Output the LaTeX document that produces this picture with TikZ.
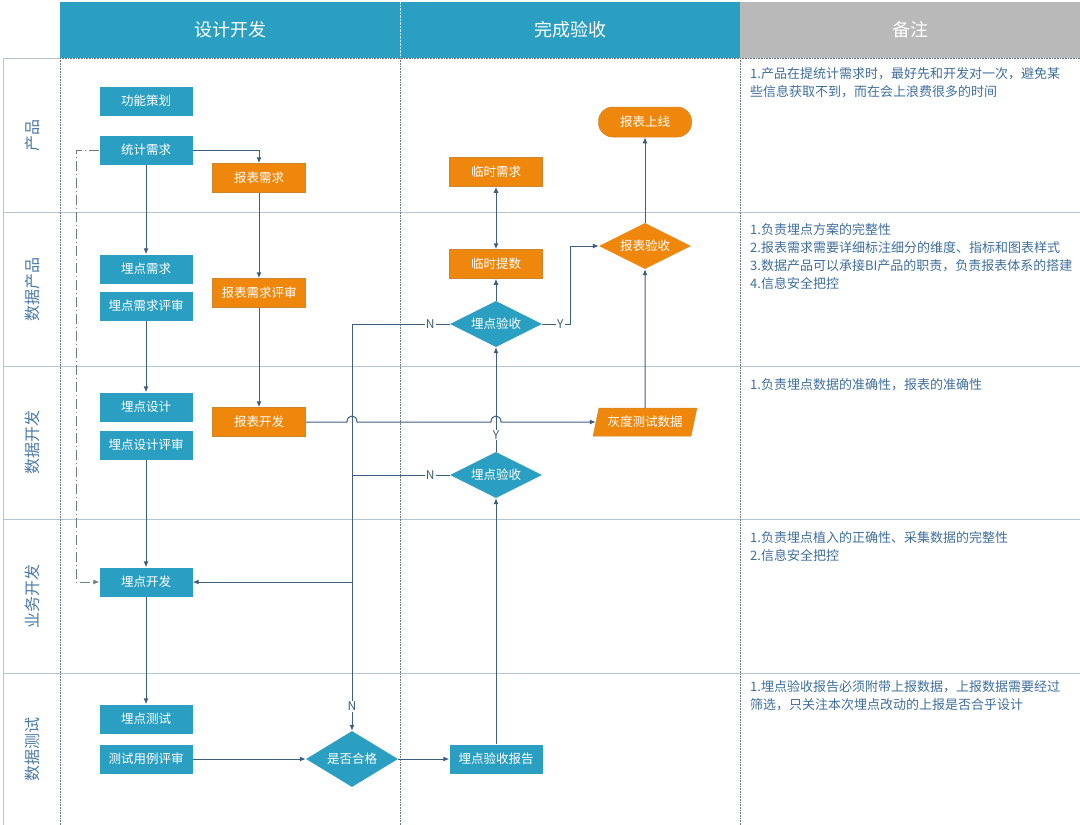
\documentclass[tikz,border=0pt]{standalone}
\usepackage{fontspec}
\setmainfont{Noto Sans CJK SC}
\usetikzlibrary{arrows.meta,shapes.geometric,calc}

\definecolor{boxblue}{HTML}{2A9FC1}
\definecolor{boxorange}{HTML}{EF870C}
\definecolor{headgray}{HTML}{B9B9B9}
\definecolor{linkcol}{HTML}{3E5E7E}
\definecolor{gridcol}{HTML}{B3C5D5}
\definecolor{notecol}{HTML}{3F6E9C}
\definecolor{lanecol}{HTML}{4B7AA6}

\tikzset{
  bluebox/.style={rectangle, fill=boxblue, text=white, minimum width=93pt, minimum height=29pt, inner sep=1pt, font=\fontsize{12.5}{14}\selectfont},
  orangebox/.style={bluebox, fill=boxorange, draw=boxorange!70!gray, line width=0.5pt},
  orangepara/.style={orangebox, trapezium, trapezium left angle=70, trapezium right angle=110, trapezium stretches=true, minimum width=104pt, minimum height=28pt},
  bluediam/.style={diamond, aspect=2, fill=boxblue, text=white, minimum width=92pt, minimum height=46pt, inner sep=1pt, font=\fontsize{12.5}{14}\selectfont},
  orangediam/.style={bluediam, fill=boxorange},
  link/.style={draw=linkcol, line width=1pt, -{Latex[length=6pt,width=5pt]}},
  plainlink/.style={draw=linkcol, line width=1pt},
  dashlink/.style={draw=gray!80!linkcol, line width=0.9pt, dash pattern=on 10pt off 3pt on 1pt off 3pt, -{Latex[length=6pt,width=5pt]}},
  yn/.style={fill=white, inner sep=1pt, text=linkcol, font=\fontsize{12}{13}\selectfont},
  note/.style={anchor=north west, align=left, text=notecol, inner sep=0pt, font=\fontsize{13}{18}\selectfont},
  lane/.style={rotate=90, text=lanecol, font=\fontsize{16}{18}\selectfont},
  head/.style={text=white, font=\fontsize{18}{20}\selectfont},
  grid/.style={draw=gridcol, line width=0.9pt},
  colsep/.style={draw=gridcol!60!black, densely dotted, line width=0.6pt}
}

\begin{document}
\begin{tikzpicture}[x=1pt,y=-1pt]
\useasboundingbox (0,0) rectangle (1080,825);

% header and lanes
\fill[boxblue] (60,2) rectangle (740,58);
\fill[headgray] (740,2) rectangle (1080,58);
\draw[white!75!boxblue, densely dotted] (400,2) -- (400,58);
\node[head] (hsjkf) at (230,30) {设计开发};
\node[head] (hwcys) at (570,30) {完成验收};
\node[head] (hbz) at (910,30) {备注};

\draw[grid] (3,58) -- (60,58);
\draw[grid] (3,58) -- (3,825);
\draw[grid] (3,212) -- (1080,212);
\draw[grid] (3,366) -- (1080,366);
\draw[grid] (3,519) -- (1080,519);
\draw[grid] (3,673) -- (1080,673);
\draw[colsep] (60,58) -- (1080,58);
\draw[colsep] (60,58) -- (60,825);
\draw[colsep] (400,58) -- (400,825);
\draw[colsep] (740,58) -- (740,825);

\node[lane] (lcp) at (32,135) {产品};
\node[lane] (lsjcp) at (32,289) {数据产品};
\node[lane] (lsjkf) at (32,442) {数据开发};
\node[lane] (lywkf) at (32,596) {业务开发};
\node[lane] (lsjcs) at (32,749) {数据测试};

% steps
\node[bluebox] (gncx) at (146,101) {功能策划};
\node[bluebox] (tjxq) at (146,150) {统计需求};
\node[orangebox] (bbxq) at (259,178) {报表需求};
\node[bluebox] (mdxq) at (146,269) {埋点需求};
\node[bluebox] (mdxqps) at (146,306) {埋点需求评审};
\node[orangebox] (bbxqps) at (259,293) {报表需求评审};
\node[bluebox] (mdsj) at (146,407) {埋点设计};
\node[bluebox] (mdsjps) at (146,445) {埋点设计评审};
\node[orangebox] (bbkf) at (259,422) {报表开发};
\node[bluebox] (mdkf) at (146,582) {埋点开发};
\node[bluebox] (mdcs) at (146,719) {埋点测试};
\node[bluebox] (csylps) at (146,759) {测试用例评审};
\node[bluediam, minimum width=92pt, minimum height=56pt] (sfhg) at (352,759) {是否合格};
\node[bluebox] (ysbg) at (496,759) {埋点验收报告};
\node[bluediam] (ysxia) at (496,475) {埋点验收};
\node[orangepara] (hdcs) at (645,422) {灰度测试数据};
\node[bluediam] (ysshang) at (496,324) {埋点验收};
\node[orangebox] (lsts) at (496,264) {临时提数};
\node[orangebox] (lsxq) at (496,172) {临时需求};
\node[orangediam] (bbys) at (645,246) {报表验收};
\node[orangebox, rounded corners=14pt, minimum height=30pt] (bbsx) at (645,122) {报表上线};

% notes
\node[note] (nt1) at (750,67) {1.产品在提统计需求时，最好先和开发对一次，避免某\\些信息获取不到，而在会上浪费很多的时间};
\node[note] (nt2) at (750,223) {1.负责埋点方案的完整性\\2.报表需求需要详细标注细分的维度、指标和图表样式\\3.数据产品可以承接BI产品的职责，负责报表体系的搭建\\4.信息安全把控};
\node[note] (nt3) at (750,378) {1.负责埋点数据的准确性，报表的准确性};
\node[note] (nt4) at (750,531) {1.负责埋点植入的正确性、采集数据的完整性\\2.信息安全把控};
\node[note] (nt5) at (750,680) {1.埋点验收报告必须附带上报数据，上报数据需要经过\\筛选，只关注本次埋点改动的上报是否合乎设计};

% flow
\draw[link] (tjxq.east) -| (bbxq.north);
\draw[link] (tjxq.south) -- (mdxq.north);
\draw[link] (bbxq.south) -- (bbxqps.north);
\draw[link] (mdxqps.south) -- (mdsj.north);
\draw[link] (bbxqps.south) -- (bbkf.north);
\draw[link] (mdsjps.south) -- (mdkf.north);
\draw[link] (mdkf.south) -- (mdcs.north);
\draw[link] (csylps.east) -- (sfhg.west);
\draw[link] (sfhg.east) -- (ysbg.west);
\draw[link] (ysbg.north) -- (ysxia.south);
\draw[link] (ysxia.north) -- node[yn, pos=0.16] {Y} (ysshang.south);
\draw[link] (ysshang.north) -- (lsts.south);
\draw[link, {Latex[length=6pt,width=5pt]}-{Latex[length=6pt,width=5pt]}] (lsts.north) -- (lsxq.south);
\draw[link] (ysshang.east) -- node[yn, pos=0.65] {Y} ++(28,0) |- (bbys.west);
\draw[link] (ysshang.west) -- node[yn, pos=0.2] {N} (ysshang.west -| sfhg.north) -- node[yn, pos=0.94] {N} (sfhg.north);
\draw[plainlink] (ysxia.west) -- node[yn, pos=0.2] {N} (ysxia.west -| sfhg.north);
\draw[link] (mdkf.east -| sfhg.north) -- (mdkf.east);
\draw[link] (hdcs.north) -- (bbys.south);
\draw[link] (bbys.north) -- (bbsx.south);
\draw[dashlink] (tjxq.west) -- ++(-23,0) |- (mdkf.west);

% report line hopping over the two verticals
\coordinate (hopa) at (bbkf.east -| sfhg.north);
\coordinate (hopb) at (bbkf.east -| ysxia.north);
\draw[link] (bbkf.east) -- ($(hopa)+(-5,0)$) .. controls +(0,-8) and +(0,-8) .. ($(hopa)+(5,0)$)
  -- ($(hopb)+(-5,0)$) .. controls +(0,-8) and +(0,-8) .. ($(hopb)+(5,0)$) -- (hdcs.west);

\end{tikzpicture}
\end{document}
